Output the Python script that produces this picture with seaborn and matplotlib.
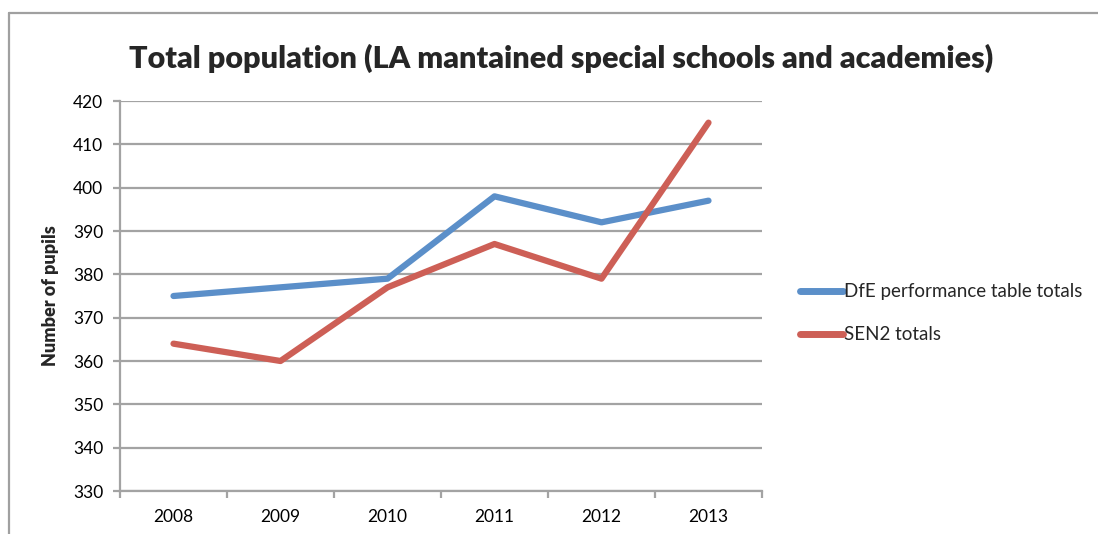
import matplotlib
matplotlib.use("Agg")
import matplotlib.pyplot as plt
from matplotlib.lines import Line2D
from matplotlib.ticker import FixedLocator
import numpy as np
import pandas as pd
import seaborn as sns

years = [2008, 2009, 2010, 2011, 2012, 2013]
dfe_totals = [375, 377, 379, 398, 392, 397]
sen2_totals = [364, 360, 377, 387, 379, 415]
series_names = ["DfE performance table totals", "SEN2 totals"]
series_colors = ["#5B8FC9", "#CD5F56"]
y_ticks = list(range(330, 421, 10))

df = pd.DataFrame({
    "year": years * 2,
    "pupils": dfe_totals + sen2_totals,
    "series": [series_names[0]] * len(years) + [series_names[1]] * len(years),
})

sns.set_theme(style="white")
plt.rcParams["font.family"] = ["Lato", "DejaVu Sans"]

fig = plt.figure(figsize=(10.98, 5.34), dpi=100)
ax = fig.add_axes([120 / 1098, 1 - 491 / 534, 642 / 1098, 390 / 534])

sns.lineplot(data=df, x="year", y="pupils", hue="series", palette=series_colors,
             hue_order=series_names, sort=False, linewidth=4.5, ax=ax,
             legend=True)
for ln in ax.get_lines():
    ln.set_solid_capstyle("round")
    ln.set_solid_joinstyle("round")

grid_color = "#A3A3A3"
ax.set_xlim(years[0] - 0.5, years[-1] + 0.5)
ax.set_ylim(y_ticks[0], y_ticks[-1])
ax.set_yticks(y_ticks)
ax.set_xticks(years)
ax.set_xticklabels([str(y) for y in years])
ax.xaxis.set_minor_locator(FixedLocator(np.arange(years[0] - 0.5, years[-1] + 1, 1.0)))
ax.yaxis.grid(True, color=grid_color, linewidth=1.6)
ax.set_axisbelow(True)
for side in ["top", "right"]:
    ax.spines[side].set_visible(False)
for side in ["left", "bottom"]:
    ax.spines[side].set_color(grid_color)
    ax.spines[side].set_linewidth(1.6)
ax.tick_params(axis="x", which="major", length=0, pad=13, labelsize=12.5, colors="black")
ax.tick_params(axis="x", which="minor", bottom=True, length=5, width=1.6, color=grid_color)
ax.tick_params(axis="y", which="major", left=True, length=5, width=1.6, color=grid_color,
               labelsize=12.5, pad=7, labelcolor="black")
ax.set_xlabel("")
ax.set_ylabel("Number of pupils", fontsize=13, fontweight="heavy", labelpad=10)

handles, labels = ax.get_legend_handles_labels()
ax.get_legend().remove()
for h in handles:
    h.set_solid_capstyle("round")
    h.set_linewidth(5)
fig.legend(handles, labels, loc="upper left", bbox_to_anchor=(792 / 1098, 1 - 276 / 534),
           frameon=False, fontsize=13.5, handlelength=2.3, handletextpad=0.05,
           labelspacing=1.38, borderaxespad=0)

fig.text(0.511, 1 - 58 / 534, "Total population (LA mantained special schools and academies)",
         ha="center", va="center", fontsize=22, fontweight="heavy")

frame_color = "#A0A0A0"
fig.add_artist(Line2D([9 / 1098, 9 / 1098], [0, 1 - 13 / 534], transform=fig.transFigure,
                      color=frame_color, linewidth=1.6))
fig.add_artist(Line2D([9 / 1098, 1], [1 - 13 / 534, 1 - 13 / 534], transform=fig.transFigure,
                      color=frame_color, linewidth=1.6))

fig.savefig("out.png", dpi=100)
